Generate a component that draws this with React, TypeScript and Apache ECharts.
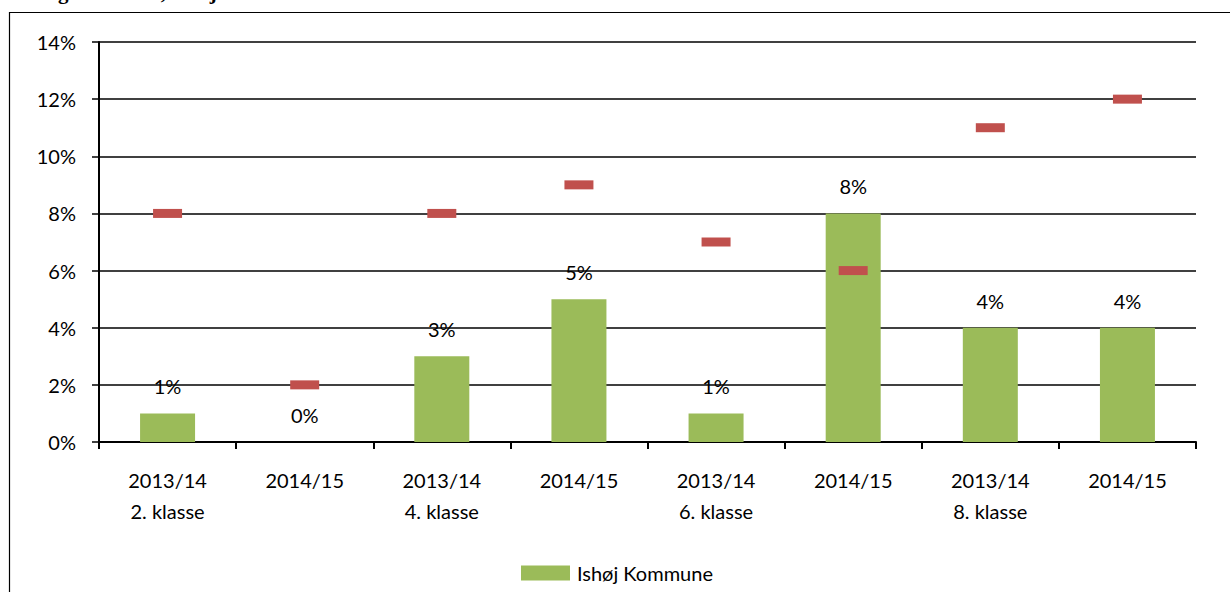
import React, { useEffect, useRef } from "react";
import * as echarts from "echarts";

const categories = [
  "2013/14\n2. klasse",
  "2014/15",
  "2013/14\n4. klasse",
  "2014/15",
  "2013/14\n6. klasse",
  "2014/15",
  "2013/14\n8. klasse",
  "2014/15",
];
const ishojValues = [1, 0, 3, 5, 1, 8, 4, 4];
const landsValues = [8, 2, 8, 9, 7, 6, 11, 12];
const yTicks = { min: 0, max: 14, interval: 2 };
const seriesName = "Ishøj Kommune";
const titleText = "Landsgennemsnit, Ishøj Kommune";

const FONT = "Lato, 'Noto Sans', sans-serif";

export default function App() {
  const ref = useRef<HTMLDivElement>(null);
  useEffect(() => {
    document.body.style.margin = "0";
    if (!ref.current) return;
    const chart = echarts.init(ref.current, undefined, { renderer: "svg" });
    chart.setOption({
      animation: false,
      backgroundColor: "#ffffff",
      textStyle: { fontFamily: FONT },
      graphic: [
        {
          type: "rect",
          shape: { x: 9.5, y: 12.5, width: 1300, height: 700 },
          style: { fill: "none", stroke: "#000", lineWidth: 1.2 },
          silent: true,
        },
        {
          type: "text",
          x: 2,
          y: -19,
          style: {
            text: titleText,
            font: "bold 21px 'Liberation Serif', serif",
            fill: "#000",
          },
          silent: true,
        },
      ],
      grid: { left: 99, right: 34, top: 42, bottom: 150, containLabel: false },
      legend: {
        data: [seriesName],
        left: 516,
        bottom: 4,
        itemWidth: 49,
        itemHeight: 15,
        itemGap: 10,
        icon: "rect",
        textStyle: { fontFamily: FONT, fontSize: 20, color: "#000", padding: [0, 0, 0, 2] },
      },
      xAxis: {
        type: "category",
        data: categories,
        axisLine: { lineStyle: { color: "#000", width: 2 } },
        axisTick: { show: true, length: 7, lineStyle: { color: "#000", width: 2 } },
        axisLabel: {
          color: "#000",
          fontSize: 20,
          fontFamily: FONT,
          lineHeight: 31,
          margin: 22,
          interval: 0,
        },
      },
      yAxis: {
        type: "value",
        min: yTicks.min,
        max: yTicks.max,
        interval: yTicks.interval,
        axisLine: { show: true, lineStyle: { color: "#000", width: 2 } },
        axisTick: { show: true, length: 7, lineStyle: { color: "#000", width: 1.5 } },
        splitLine: { show: true, lineStyle: { color: "#000", width: 1.5 } },
        axisLabel: {
          color: "#000",
          fontSize: 20,
          fontFamily: FONT,
          margin: 23,
          formatter: "{value}%",
        },
      },
      series: [
        {
          name: seriesName,
          type: "bar",
          data: ishojValues,
          barWidth: 55,
          itemStyle: { color: "#9BBB59" },
          label: {
            show: true,
            position: "top",
            distance: 17,
            formatter: "{c}%",
            color: "#000",
            fontSize: 20,
            fontFamily: FONT,
          },
          z: 2,
        },
        {
          name: "Landsgennemsnit",
          type: "scatter",
          data: landsValues,
          symbol: "rect",
          symbolSize: [29, 9],
          itemStyle: { color: "#C0504D", opacity: 1 },
          z: 5,
        },
      ],
    });
    return () => chart.dispose();
  }, []);
  return <div ref={ref} style={{ width: 1230, height: 592 }} />;
}
